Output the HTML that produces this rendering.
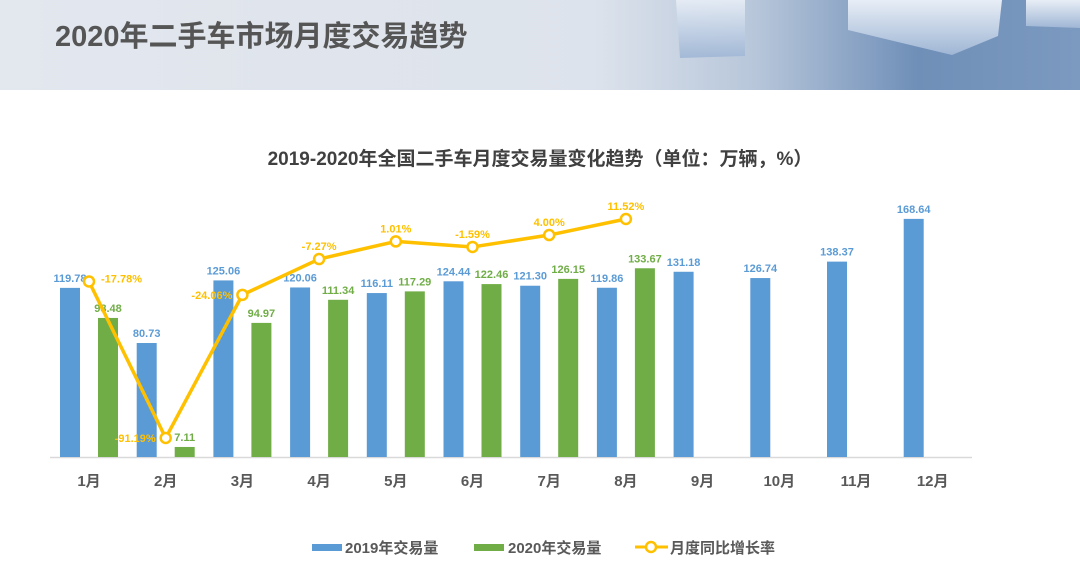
<!DOCTYPE html>
<html><head><meta charset="utf-8"><style>
html,body{margin:0;padding:0;width:1080px;height:588px;background:#fff;overflow:hidden;font-family:"Liberation Sans","Noto Sans CJK SC",sans-serif}
</style></head><body>
<svg width="1080" height="588" xmlns="http://www.w3.org/2000/svg">
<defs>
<linearGradient id="hg" x1="0" x2="1" y1="0" y2="0">
<stop offset="0" stop-color="#e3e7ee"/><stop offset="0.55" stop-color="#dde3ec"/><stop offset="0.7" stop-color="#b7c6da"/><stop offset="0.85" stop-color="#6f8fb8"/><stop offset="1" stop-color="#7c9ac0"/></linearGradient>
<linearGradient id="cb" x1="0" x2="0" y1="0" y2="1"><stop offset="0" stop-color="#e8eef6"/><stop offset="1" stop-color="#9fb6d5"/></linearGradient>
</defs>
<g>
<rect x="0" y="0" width="1080" height="90" fill="url(#hg)"/>
<path d="M676 0 L745 0 L745 56 L680 58 Z" fill="url(#cb)" opacity="0.9"/>
<path d="M848 0 L1002 0 L998 36 L952 55 L848 30 Z" fill="url(#cb)"/>
<path d="M1026 0 L1080 0 L1080 28 L1026 26 Z" fill="url(#cb)"/>
<text x="55" y="46" font-size="29" font-weight="bold" fill="#555">2020年二手车市场月度交易趋势</text>
</g>
<text x="540" y="165" font-size="19" font-weight="bold" fill="#404040" text-anchor="middle">2019-2020年全国二手车月度交易量变化趋势（单位：万辆，%）</text>
<g id="plot"></g>
<g>
<rect x="312" y="544" width="30" height="7" fill="#5b9bd5"/>
<text x="345" y="553" font-size="15" font-weight="bold" fill="#595959">2019年交易量</text>
<rect x="474" y="544" width="30" height="7" fill="#70ad47"/>
<text x="508" y="553" font-size="15" font-weight="bold" fill="#595959">2020年交易量</text>
<line x1="635" y1="547" x2="668" y2="547" stroke="#ffc000" stroke-width="3"/>
<circle cx="651" cy="547" r="5" fill="#fff" stroke="#ffc000" stroke-width="2.5"/>
<text x="670" y="553" font-size="15" font-weight="bold" fill="#595959">月度同比增长率</text>
</g>
</svg>
<script>
const months=["1月","2月","3月","4月","5月","6月","7月","8月","9月","10月","11月","12月"];
const vol2019=[119.78,80.73,125.06,120.06,116.11,124.44,121.30,119.86,131.18,126.74,138.37,168.64];
const vol2020=[98.48,7.11,94.97,111.34,117.29,122.46,126.15,133.67];
const growth=[-17.78,-91.19,-24.06,-7.27,1.01,-1.59,4.00,11.52];
const NS="http://www.w3.org/2000/svg";
const g=document.getElementById('plot');
const x=i=>89+i*76.7;
const yV=v=>457-v*1.412;
const yG=v=>219+(11.52-v)*2.132;
function mk(t,a,txt){const e=document.createElementNS(NS,t);for(const k in a)e.setAttribute(k,a[k]);if(txt!=null)e.textContent=txt;g.appendChild(e);return e;}
let e=mk('line',{x1:50,y1:457.5,x2:972,y2:457.5,stroke:'#d9d9d9','stroke-width':1.5});


months.forEach((m,i)=>{
 const t=mk('text',{x:x(i),y:486,'font-size':15,'font-weight':'bold',fill:'#595959','text-anchor':'middle'},m);
 
 
});
vol2019.forEach((v,i)=>{
 const r=mk('rect',{x:x(i)-29,y:yV(v),width:20,height:457-yV(v),fill:'#5b9bd5'});
 
 
 const t=mk('text',{x:x(i)-19,y:yV(v)-6,'font-size':11,'font-weight':'bold',fill:'#5b9bd5','text-anchor':'middle'},v.toFixed(2));
 
 
});
vol2020.forEach((v,i)=>{
 const r=mk('rect',{x:x(i)+9,y:yV(v),width:20,height:457-yV(v),fill:'#70ad47'});
 
 
 const t=mk('text',{x:x(i)+19,y:yV(v)-6,'font-size':11,'font-weight':'bold',fill:'#70ad47','text-anchor':'middle'},v.toFixed(2));
 
 
});
const pl=mk('polyline',{points:growth.map((v,i)=>x(i)+','+yG(v)).join(' '),fill:'none',stroke:'#ffc000','stroke-width':3.5,'stroke-linejoin':'round'});


growth.forEach((v,i)=>{
 const c=mk('circle',{cx:x(i),cy:yG(v),r:5,fill:'#fff',stroke:'#ffc000','stroke-width':2.5});
 
 
 let lx=x(i),ly=yG(v)-9,anc='middle';
 if(i===0){lx=x(i)+12;ly=yG(v)+1;anc='start';}
 if(i===1||i===2){lx=x(i)-10;ly=yG(v)+4;anc='end';}
 const t=mk('text',{x:lx,y:ly,'font-size':11,'font-weight':'bold',fill:'#ffc000','text-anchor':anc},v.toFixed(2)+'%');
 
 
});
</script>
</body></html>
